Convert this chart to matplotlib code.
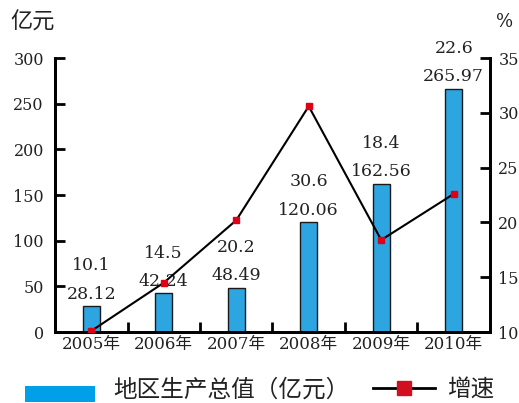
import numpy as np
import matplotlib.pyplot as plt
from matplotlib.patches import Rectangle
from matplotlib.lines import Line2D

plt.rcParams['font.family'] = ['DejaVu Serif', 'Noto Sans CJK SC']

# 数据
years = ['2005年', '2006年', '2007年', '2008年', '2009年', '2010年']
gdp = [28.12, 42.24, 48.49, 120.06, 162.56, 265.97]
growth = [10.1, 14.5, 20.2, 30.6, 18.4, 22.6]

x = np.arange(len(years))
bar_color = '#2DA5E0'
txt_color = '#222222'

fig = plt.figure(figsize=(5.19, 4.03), dpi=100)
ax = fig.add_axes([0.106, 0.176, 0.838, 0.68])
ax2 = ax.twinx()

ax.bar(x, gdp, width=0.24, color=bar_color, edgecolor='#1a1a1a', linewidth=1.0, zorder=2)
ax2.plot(x, growth, color='black', linewidth=1.5, marker='s', markersize=4,
         markerfacecolor='#E00015', markeredgecolor='#E00015', zorder=3)

# 柱顶标注：上为增速，下为总值
for xi, g, r in zip(x, gdp, growth):
    ax.text(xi, g + 4, f'{g:.2f}', ha='center', va='bottom', fontsize=12.5, color=txt_color)
    ax.text(xi, g + 35, f'{r:.1f}', ha='center', va='bottom', fontsize=12.5, color=txt_color)

ax.set_xlim(-0.5, len(years) - 0.5)
ax.set_ylim(0, 300)
ax.set_yticks(range(0, 301, 50))
ax2.set_ylim(10, 35)
ax2.set_yticks(range(10, 36, 5))

ax.set_xticks(x)
ax.set_xticklabels(years, fontsize=12, color=txt_color)
ax.set_xticks(np.arange(0.5, len(years) - 1, 1), minor=True)
ax.tick_params(axis='x', which='major', length=0, pad=3)
ax.tick_params(axis='x', which='minor', direction='in', length=7, width=2)
ax.tick_params(axis='y', direction='in', length=7, width=2, labelsize=11.5,
               labelcolor=txt_color, pad=8)
ax2.tick_params(axis='y', direction='in', length=7, width=2, labelsize=11.5,
                labelcolor=txt_color, pad=6)

for a in (ax, ax2):
    a.spines['top'].set_visible(False)
    for s in ('left', 'right', 'bottom'):
        a.spines[s].set_linewidth(2)

fig.text(0.019, 0.943, '亿元', fontsize=16, ha='left', va='center', color=txt_color)
fig.text(0.955, 0.945, '%', fontsize=13, ha='left', va='center', color=txt_color)

# 图例（手工放置在底部）
ly = 0.032
fig.add_artist(Rectangle((0.048, ly - 0.03), 0.135, 0.04, transform=fig.transFigure,
                         facecolor='#00A0E9', edgecolor='none'))
fig.text(0.218, ly, '地区生产总值（亿元）', fontsize=17, ha='left', va='center', color=txt_color)
fig.add_artist(Line2D([0.719, 0.838], [ly + 0.004, ly + 0.004], transform=fig.transFigure,
                      color='black', linewidth=2))
fig.add_artist(Line2D([0.7785], [ly + 0.004], transform=fig.transFigure, marker='s',
                      markersize=10, color='#D0101F', linestyle='none'))
fig.text(0.861, ly, '增速', fontsize=17, ha='left', va='center', color=txt_color)

fig.savefig('out.png', dpi=100)
